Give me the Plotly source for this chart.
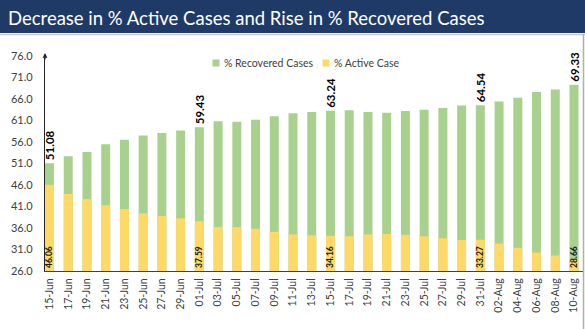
import plotly.graph_objects as go

categories = ["15-Jun", "17-Jun", "19-Jun", "21-Jun", "23-Jun", "25-Jun", "27-Jun", "29-Jun",
              "01-Jul", "03-Jul", "05-Jul", "07-Jul", "09-Jul", "11-Jul", "13-Jul", "15-Jul",
              "17-Jul", "19-Jul", "21-Jul", "23-Jul", "25-Jul", "27-Jul", "29-Jul", "31-Jul",
              "02-Aug", "04-Aug", "06-Aug", "08-Aug", "10-Aug"]
recovered = [51.08, 52.7, 53.7, 55.5, 56.5, 57.5, 58.1, 58.7,
             59.43, 60.8, 60.7, 61.2, 62.0, 62.7, 63.0, 63.24,
             63.4, 63.0, 62.8, 63.2, 63.5, 63.9, 64.5, 64.54,
             65.4, 66.3, 67.6, 68.2, 69.33]
active = [46.06, 43.9, 42.7, 41.3, 40.4, 39.4, 38.8, 38.25,
          37.59, 36.2, 36.2, 35.8, 35.1, 34.5, 34.3, 34.16,
          34.1, 34.5, 34.6, 34.4, 34.06, 33.6, 33.2, 33.27,
          32.4, 31.4, 30.3, 29.6, 28.66]
labelled = [0, 8, 15, 23, 28]
y_ticks = [26, 31, 36, 41, 46, 51, 56, 61, 66, 71, 76]
title_text = "Decrease in % Active Cases and Rise in % Recovered Cases"
series_names = ["% Recovered Cases", "% Active Case"]

W, H = 585, 329
ML, MR, MT, MB = 45, 2, 56, 58
PW, PH = W - ML - MR, H - MT - MB
BASE = y_ticks[0]

GREEN = "#a9d18e"
YELLOW = "#ffd966"
TXT = "#404040"
FONT = "Lato"


def px_x(p):
    return (p - ML) / PW


def px_y(p):
    return 1 + (MT - p) / PH


rec_text = [f"{v:.2f}" if i in labelled else "" for i, v in enumerate(recovered)]
act_text = [f"{v:.2f}" if i in labelled else "" for i, v in enumerate(active)]

fig = go.Figure()
fig.add_trace(go.Bar(
    x=categories, y=[v - BASE for v in recovered], base=BASE,
    marker=dict(color=GREEN, line=dict(width=0)), width=0.48,
    text=rec_text, textposition="outside", textangle=-90, constraintext="none",
    cliponaxis=False,
    textfont=dict(family=FONT, size=11.5, color="#000000", weight="bold"),
    name=series_names[0], showlegend=False,
))
fig.add_trace(go.Bar(
    x=categories, y=[v - BASE for v in active], base=BASE,
    marker=dict(color=YELLOW, line=dict(width=0)), width=0.48,
    text=act_text, textposition="inside", insidetextanchor="start", textangle=-90,
    constraintext="none",
    textfont=dict(family=FONT, size=8.5, color="#1a1a1a", weight="bold"),
    name=series_names[1], showlegend=False,
))

shapes = [
    dict(type="rect", xref="paper", yref="paper", x0=px_x(0), x1=px_x(W), y0=px_y(33), y1=px_y(0),
         fillcolor="#1f3a66", line=dict(width=0), layer="below"),
    dict(type="line", xref="paper", yref="paper", x0=px_x(0), x1=px_x(W), y0=px_y(34.5), y1=px_y(34.5),
         line=dict(color="#c8c8c8", width=1.5)),
    dict(type="line", xref="paper", yref="paper", x0=px_x(583.5), x1=px_x(583.5), y0=px_y(34), y1=px_y(H),
         line=dict(color="#b0b0b0", width=1.5)),
    # legend squares
    dict(type="rect", xref="paper", yref="paper", x0=px_x(212.5), x1=px_x(219.5), y0=px_y(66.5), y1=px_y(59.5),
         fillcolor=GREEN, line=dict(width=0)),
    dict(type="rect", xref="paper", yref="paper", x0=px_x(322.5), x1=px_x(329.5), y0=px_y(66.5), y1=px_y(59.5),
         fillcolor=YELLOW, line=dict(width=0)),
]

annotations = [
    dict(text=title_text, xref="paper", yref="paper", x=px_x(6), y=px_y(17.5), xanchor="left", yanchor="middle",
         showarrow=False, font=dict(family=FONT, size=18.5, color="#ffffff")),
    dict(text=series_names[0], xref="paper", yref="paper", x=px_x(222), y=px_y(63), xanchor="left",
         yanchor="middle", showarrow=False, font=dict(family=FONT, size=10.5, color=TXT)),
    dict(text=series_names[1], xref="paper", yref="paper", x=px_x(332), y=px_y(63), xanchor="left",
         yanchor="middle", showarrow=False, font=dict(family=FONT, size=10.5, color=TXT)),
    dict(text="", xref="paper", yref="paper", x=0, y=px_y(53), ax=0, ay=8, axref="pixel", ayref="pixel",
         showarrow=True, arrowhead=2, arrowsize=0.8, arrowwidth=1.2, arrowcolor="#262626"),
]

fig.update_layout(
    width=W, height=H,
    margin=dict(l=ML, r=MR, t=MT, b=MB, pad=0),
    paper_bgcolor="#ffffff", plot_bgcolor="#ffffff",
    barmode="overlay",
    showlegend=False,
    shapes=shapes, annotations=annotations,
    font=dict(family=FONT, color=TXT),
    xaxis=dict(
        type="category", categoryorder="array", categoryarray=categories,
        range=[-0.24, 28.48], showgrid=False, zeroline=False,
        showline=True, linecolor="#404040", linewidth=1.2,
        ticks="", tickangle=-90, tickfont=dict(family=FONT, size=10.5, color=TXT),
        ticklabelstandoff=2,
    ),
    yaxis=dict(
        range=[BASE, y_ticks[-1]], tickmode="array", tickvals=y_ticks,
        ticktext=[f"{t:.1f}" for t in y_ticks],
        showgrid=False, zeroline=False,
        showline=True, linecolor="#262626", linewidth=1.2,
        ticks="", tickfont=dict(family=FONT, size=11, color=TXT),
        ticklabelstandoff=9,
    ),
)

fig.write_html("out.html")
